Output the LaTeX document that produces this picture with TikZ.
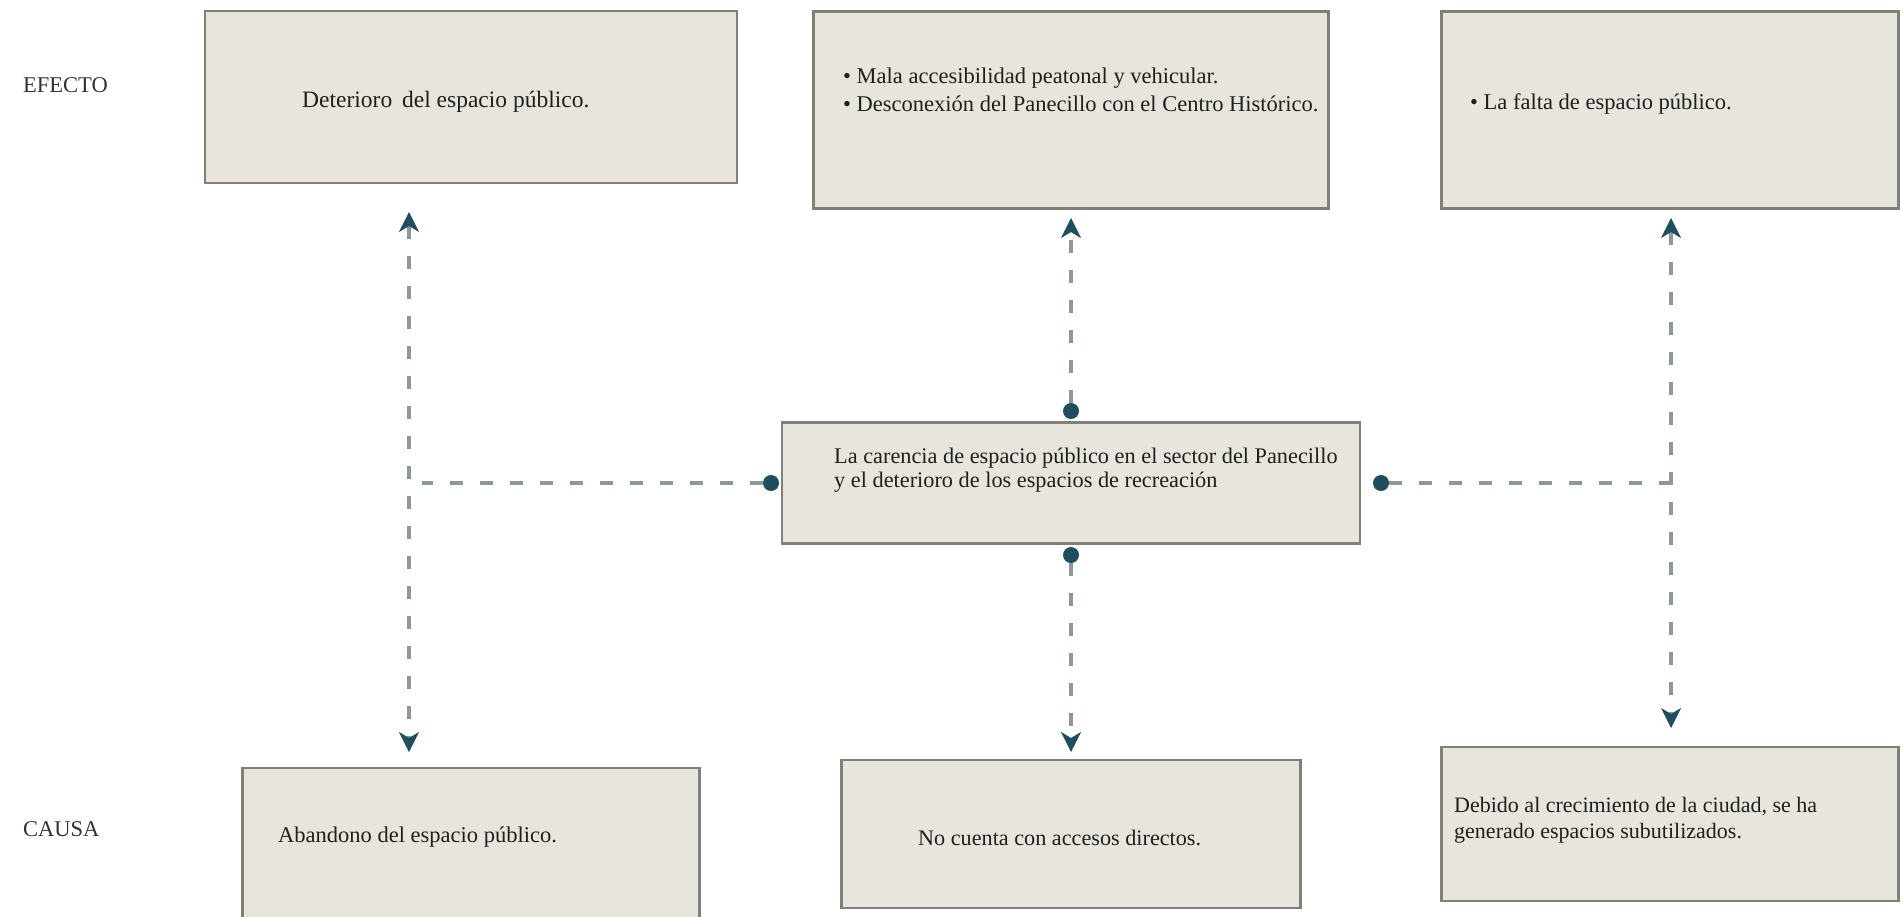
\documentclass[tikz,border=0pt]{standalone}
\usepackage{fontspec}
\setmainfont{Liberation Serif}
\usetikzlibrary{arrows.meta}
\definecolor{boxfill}{HTML}{E8E5DD}
\definecolor{boxline}{HTML}{80807A}
\definecolor{dashc}{HTML}{8E9799}
\definecolor{tealc}{HTML}{1F4F5E}
\begin{document}
\begin{tikzpicture}[x=1pt,y=-1pt,
  box/.style={draw=boxline, line width=2.5pt, fill=boxfill, inner sep=0pt},
  txt/.style={inner sep=0pt, text=black!88, font=\fontsize{22.5}{26}\selectfont},
  side/.style={inner sep=0pt, text=black!80, font=\fontsize{22.5}{26}\selectfont, anchor=west},
  dl/.style={draw=dashc, line width=4pt, dash pattern=on 13pt off 17pt},
  stl/.style={Stealth[length=20pt,width=20pt,inset=6pt,color=tealc,line width=0.5pt]},
  tip/.style={-{Stealth[length=20pt,width=20pt,inset=6pt,color=tealc,line width=0.5pt]}},
  tips/.style={{Stealth[length=20pt,width=20pt,inset=6pt,color=tealc,line width=0.5pt]}-{Stealth[length=20pt,width=20pt,inset=6pt,color=tealc,line width=0.5pt]}},
  dot/.style={circle, fill=tealc, minimum size=16pt, inner sep=0pt}]
\useasboundingbox (0,0) rectangle (1903,916);
\fill[white] (0,0) rectangle (1903,916);

% labels
\node[side] (efecto) at (23,85) {EFECTO};
\node[side] (causa) at (23,829) {CAUSA};

% boxes
\node[box, minimum width=532pt, minimum height=172pt] (A) at (471,97) {};
\node[box, minimum width=515pt, minimum height=197pt] (B) at (1071,110) {};
\node[box, minimum width=457pt, minimum height=197pt] (C) at (1670,110) {};
\node[box, minimum width=578pt, minimum height=121pt] (M) at (1071,483) {};
\node[box, minimum width=457pt, minimum height=160pt] (D) at (471,848) {};
\node[box, minimum width=459pt, minimum height=148pt] (E) at (1071,834) {};
\node[box, minimum width=457pt, minimum height=154pt] (F) at (1670,824) {};

% texts
\node[txt, anchor=west, font=\fontsize{23.5}{26}\selectfont] (tA) at (302,102) {Deterioro\hspace{4pt} del espacio público.};
\node[txt, anchor=north west, align=left, font=\fontsize{22.5}{28}\selectfont] (tB) at (843,68)
  {• Mala accesibilidad peatonal y vehicular.\\• Desconexión del Panecillo con el Centro Histórico.};
\node[txt, anchor=west] (tC) at (1470,104) {• La falta de espacio público.};
\node[txt, anchor=north west, align=left, font=\fontsize{22.3}{24}\selectfont] (tM) at (834,448)
  {La carencia de espacio público en el sector del Panecillo\\y el deterioro de los espacios de recreación};
\node[txt, anchor=west] (tD) at (278,837) {Abandono del espacio público.};
\node[txt, anchor=west, font=\fontsize{22.2}{26}\selectfont] (tE) at (918,838) {No cuenta con accesos directos.};
\node[txt, anchor=north west, align=left, font=\fontsize{22}{26}\selectfont] (tF) at (1454,797)
  {Debido al crecimiento de la ciudad, se ha\\generado espacios subutilizados.};

% dots
\node[dot] (dT) at (1071,411) {};
\node[dot] (dB) at (1071,555) {};
\node[dot] (dL) at (771,483) {};
\node[dot] (dR) at (1381,483) {};

% coordinates
\coordinate (lT) at (409,212);
\coordinate (lB) at (409,752);
\coordinate (lH) at (422,483);
\coordinate (mT) at (1071,218);
\coordinate (mB) at (1071,752);
\coordinate (rT) at (1671,218);
\coordinate (rB) at (1671,728);
\coordinate (rH) at (1671,483);

% connectors
\draw[dl, tips] (lT) -- (lB);
\draw[dl] (dL) -- (lH);
\draw[dl, tip] (dT) -- (mT);
\draw[dl, tip] (dB) -- (mB);
\draw[dl] (dR) -- (rH);
\draw[dl, tips] (rT) -- (rB);
\end{tikzpicture}
\end{document}
